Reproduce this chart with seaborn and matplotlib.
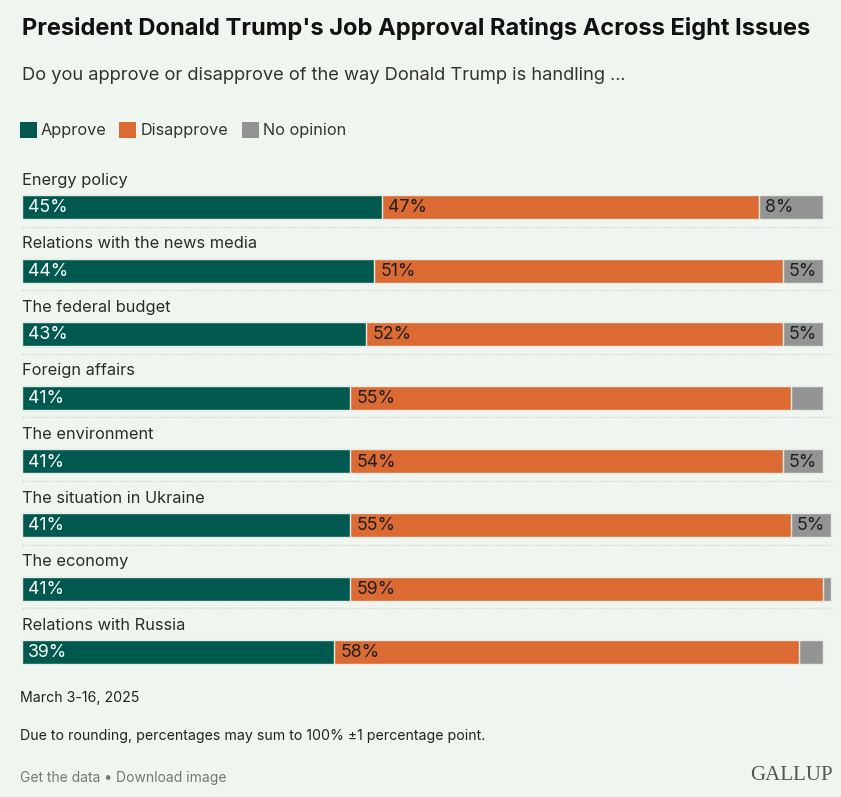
import matplotlib
matplotlib.use("Agg")
import matplotlib.pyplot as plt
import seaborn as sns
import pandas as pd
from matplotlib.patches import Rectangle

categories = ["Energy policy", "Relations with the news media", "The federal budget",
              "Foreign affairs", "The environment", "The situation in Ukraine",
              "The economy", "Relations with Russia"]
approve = [45, 44, 43, 41, 41, 41, 41, 39]
disapprove = [47, 51, 52, 55, 54, 55, 59, 58]
no_opinion = [8, 5, 5, 4, 5, 5, 1, 3]

BG = "#eff6f0"
C_APP = "#00594e"
C_DIS = "#dc6a33"
C_NO = "#939393"

sns.set_theme(style="white")
plt.rcParams["font.family"] = ["Inter", "DejaVu Sans"]

df = pd.DataFrame({"cat": categories, "a": approve, "d": disapprove, "n": no_opinion})
df["ad"] = df["a"] + df["d"]
df["adn"] = df["ad"] + df["n"]

W, H = 841, 797
fig = plt.figure(figsize=(W / 100, H / 100), dpi=100, facecolor=BG)

px_per = 8.01
left_px, right_px = 22, 834
top_px, bot_px = 207 - 0.75 * 63.6, 207 + 7.5 * 63.6
ax = fig.add_axes([left_px / W, (H - bot_px) / H, (right_px - left_px) / W, (bot_px - top_px) / H])
ax.set_facecolor(BG)

bw = 24 / 63.6
kw = dict(orient="h", width=bw, linewidth=1.0, edgecolor="#e9ece6", ax=ax, saturation=1)
sns.barplot(data=df, x="adn", y="cat", color=C_NO, **kw)
sns.barplot(data=df, x="ad", y="cat", color=C_DIS, **kw)
sns.barplot(data=df, x="a", y="cat", color=C_APP, **kw)

ax.set_xlim(0, (right_px - left_px) / px_per)
ax.set_ylim(7.5, -0.75)
ax.set_xlabel("")
ax.set_ylabel("")
ax.set_xticks([])
ax.set_yticks([])
for s in ax.spines.values():
    s.set_visible(False)
for p in ax.patches:
    p.set_clip_on(False)

lab_off = 6 / px_per
vfs = 12.8
for i, row in df.iterrows():
    ax.text(0, i - 27 / 63.6, row["cat"], ha="left", va="center", fontsize=11.8, color="#2b2b2b")
    ax.text(lab_off, i + 0.01, f"{row['a']}%", ha="left", va="center", fontsize=vfs, color="white")
    ax.text(row["a"] + lab_off, i + 0.01, f"{row['d']}%", ha="left", va="center", fontsize=vfs, color="#1e1e1e")
    if row["n"] >= 5:
        ax.text(row["ad"] + lab_off, i + 0.01, f"{row['n']}%", ha="left", va="center", fontsize=vfs, color="#1e1e1e")
    if i < len(df) - 1:
        ax.plot([0, 810 / px_per], [i + 19.5 / 63.6] * 2, color="#cfd6cf", lw=1, ls=(0, (1, 1.2)), clip_on=False)

def fy(py):
    return 1 - py / H

fig.text(22 / W, fy(29), "President Donald Trump's Job Approval Ratings Across Eight Issues",
         fontsize=17.05, fontweight="bold", color="#111111", ha="left", va="center")
fig.text(22 / W, fy(76), "Do you approve or disapprove of the way Donald Trump is handling ...",
         fontsize=13.2, color="#333333", ha="left", va="center")

legend_items = [("Approve", C_APP, 20, 41), ("Disapprove", C_DIS, 119, 141), ("No opinion", C_NO, 242, 263)]
for label, col, sx, tx in legend_items:
    fig.patches.append(Rectangle((sx / W, fy(138)), 17 / W, 16 / H, transform=fig.transFigure,
                                 facecolor=col, edgecolor="none"))
    fig.text(tx / W, fy(130), label, fontsize=11.7, color="#333333", ha="left", va="center")

fig.text(20 / W, fy(698), "March 3-16, 2025", fontsize=10.2, color="#222222", ha="left", va="center")
fig.text(20 / W, fy(736), "Due to rounding, percentages may sum to 100% \u00b11 percentage point.",
         fontsize=10.2, color="#222222", ha="left", va="center")
fig.text(20 / W, fy(778), "Get the data \u2022 Download image", fontsize=10, color="#777777", ha="left", va="center")
fig.text(833 / W, fy(776), "GALLUP", fontsize=15, color="#555555", ha="right", va="center",
         family=["Liberation Serif", "DejaVu Serif"])

fig.savefig("out.png", dpi=100, facecolor=BG)
